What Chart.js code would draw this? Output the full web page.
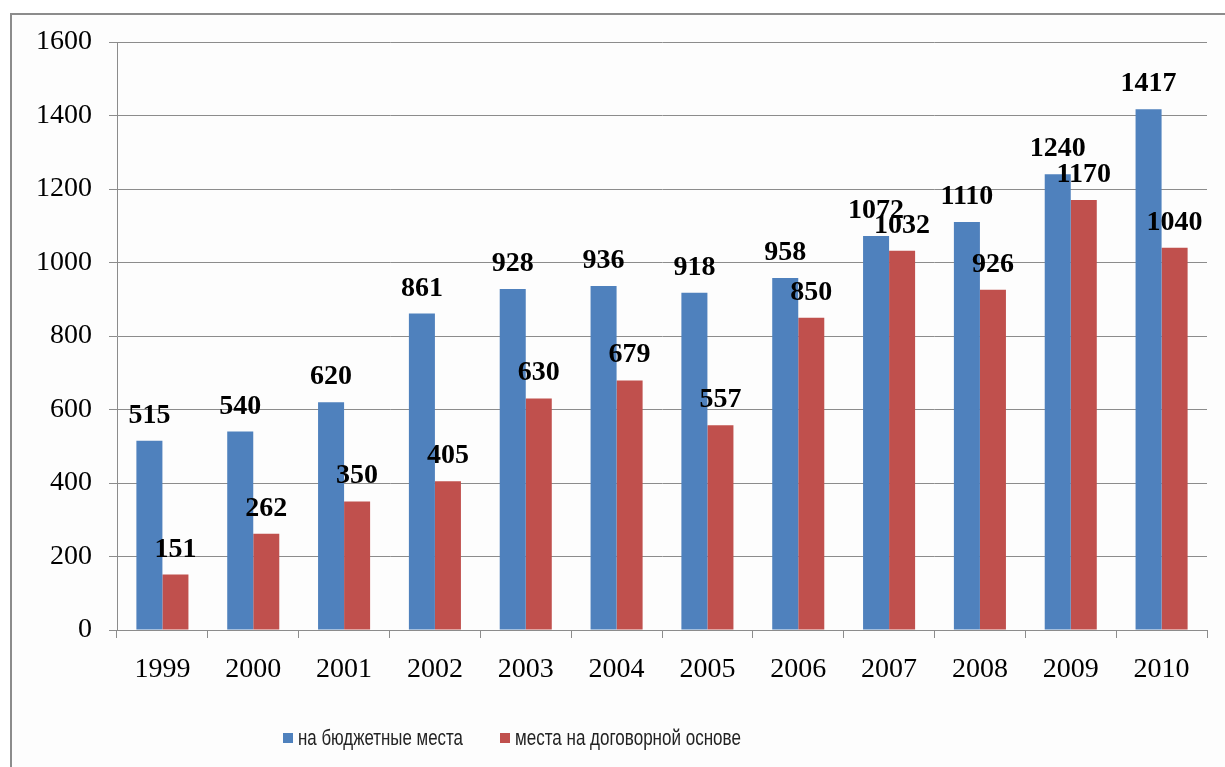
<!DOCTYPE html>
<html>
<head>
<meta charset="utf-8">
<script src="https://cdn.jsdelivr.net/npm/chart.js@4.4.0/dist/chart.umd.min.js"></script>
<style>
    body { margin: 0; background: #fff; }
    #wrap { position: relative; width: 1225px; height: 767px; overflow: hidden; }
    #frame { position: absolute; left: 10px; top: 13px; width: 1400px; height: 900px; border: 2px solid #8c8c8c; background: #fdfdfd; }
    #myChart { position: absolute; left: 0; top: 0; }
    #legend { position: absolute; left: 283px; top: 725px; font-family: 'Liberation Sans', Arial, sans-serif; font-size: 22px; color: #222; white-space: nowrap; }
    .item { position: absolute; top: 0; display: flex; align-items: center; }
    .box { width: 10px; height: 10px; margin-right: 5px; }
    .txt { display: inline-block; transform-origin: left center; }
</style>
</head>
<body>
<div id="wrap">
    <div id="frame"></div>
    <canvas id="myChart" width="1225" height="767"></canvas>
    <div id="legend"></div>
</div>
<script>
const years = ['1999', '2000', '2001', '2002', '2003', '2004', '2005', '2006', '2007', '2008', '2009', '2010'];
const budgetPlaces = [515, 540, 620, 861, 928, 936, 918, 958, 1072, 1110, 1240, 1417];
const contractPlaces = [151, 262, 350, 405, 630, 679, 557, 850, 1032, 926, 1170, 1040];
const seriesNames = ['на бюджетные места', 'места на договорной основе'];
const seriesColors = ['#4f81bd', '#c0504d'];

const gridColor = '#8c8c8c';
const serif = 'Liberation Serif';

// numbers above the bars
const valueLabels = {
    id: 'valueLabels',
    afterDatasetsDraw(chart) {
        const ctx = chart.ctx;
        ctx.save();
        ctx.font = 'bold 28px "' + serif + '"';
        ctx.fillStyle = '#000';
        ctx.textAlign = 'center';
        ctx.textBaseline = 'alphabetic';
        chart.data.datasets.forEach((ds, i) => {
            chart.getDatasetMeta(i).data.forEach((bar, j) => {
                ctx.fillText(ds.data[j], bar.x, bar.y - 18);
            });
        });
        ctx.restore();
    }
};

const ctx = document.getElementById('myChart').getContext('2d');
new Chart(ctx, {
    type: 'bar',
    data: {
        labels: years,
        datasets: [
            { label: seriesNames[0], data: budgetPlaces, backgroundColor: seriesColors[0] },
            { label: seriesNames[1], data: contractPlaces, backgroundColor: seriesColors[1] }
        ]
    },
    options: {
        responsive: false,
        animation: false,
        categoryPercentage: 0.573,
        barPercentage: 1.0,
        layout: { padding: { top: 42, right: 18, left: 0, bottom: 0 } },
        plugins: {
            legend: { display: false },
            tooltip: { enabled: false }
        },
        scales: {
            y: {
                min: 0,
                max: 1600,
                ticks: {
                    stepSize: 200,
                    padding: 17,
                    color: '#000',
                    font: { family: serif, size: 28 },
                    callback: function(value) { return String(value); }
                },
                grid: { color: gridColor, tickLength: 8, lineWidth: 1 },
                border: { color: gridColor },
                afterFit: function(s) { s.width = 117; }
            },
            x: {
                ticks: {
                    padding: 15,
                    color: '#000',
                    font: { family: serif, size: 28 }
                },
                grid: { drawOnChartArea: false, drawTicks: true, tickLength: 8, color: gridColor, offset: true },
                border: { color: gridColor },
                afterFit: function(s) { s.height = 137; }
            }
        }
    },
    plugins: [valueLabels]
});

// legend below the chart
const legendBox = document.getElementById('legend');
const legendLeft = [0, 217];
const legendWidths = [165, 226];
seriesNames.forEach((name, i) => {
    const item = document.createElement('div');
    item.className = 'item';
    item.style.left = legendLeft[i] + 'px';
    const box = document.createElement('span');
    box.className = 'box';
    box.style.background = seriesColors[i];
    const text = document.createElement('span');
    text.className = 'txt';
    text.textContent = name;
    item.appendChild(box);
    item.appendChild(text);
    legendBox.appendChild(item);
    // squeeze the text to the narrow width of the original font
    const w = text.getBoundingClientRect().width;
    text.style.transform = 'scaleX(' + (legendWidths[i] / w).toFixed(3) + ')';
});
</script>
</body>
</html>
